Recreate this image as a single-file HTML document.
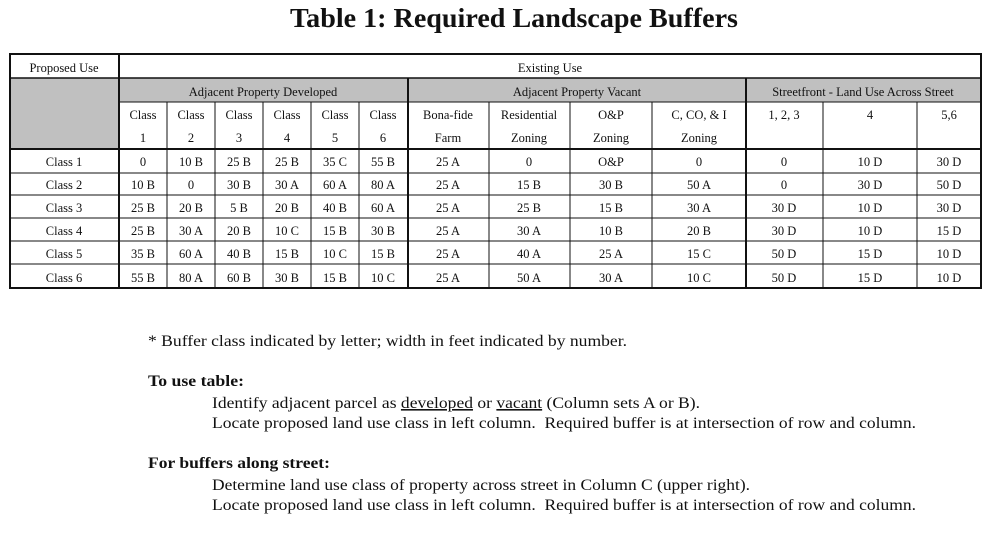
<!DOCTYPE html>
<html><head><meta charset="utf-8"><style>
html,body{margin:0;padding:0;background:#fff;width:992px;height:533px;overflow:hidden}
svg text{font-family:"Liberation Serif",serif;fill:#111}
</style></head><body>
<svg width="992" height="533" xmlns="http://www.w3.org/2000/svg">
<text x="290" y="27" font-size="27" font-weight="bold" textLength="448" lengthAdjust="spacingAndGlyphs">Table 1: Required Landscape Buffers</text>
<rect x="119" y="78" width="862" height="24" fill="#c0c0c0"/>
<rect x="10" y="78" width="109" height="71" fill="#c0c0c0"/>
<g stroke="#111" stroke-width="1" fill="none">
<line x1="10" y1="78" x2="981" y2="78" stroke-width="1.5"/>
<line x1="119" y1="102" x2="981" y2="102"/>
<line x1="10" y1="149" x2="981" y2="149" stroke-width="2"/>
<line x1="10" y1="173" x2="981" y2="173"/>
<line x1="10" y1="195" x2="981" y2="195"/>
<line x1="10" y1="218" x2="981" y2="218"/>
<line x1="10" y1="241" x2="981" y2="241"/>
<line x1="10" y1="264" x2="981" y2="264"/>
<line x1="119" y1="54" x2="119" y2="288" stroke-width="2"/>
<line x1="408" y1="78" x2="408" y2="288" stroke-width="2"/>
<line x1="746" y1="78" x2="746" y2="288" stroke-width="2"/>
<g>
<line x1="167" y1="102" x2="167" y2="288"/><line x1="215" y1="102" x2="215" y2="288"/>
<line x1="263" y1="102" x2="263" y2="288"/><line x1="311" y1="102" x2="311" y2="288"/>
<line x1="359" y1="102" x2="359" y2="288"/><line x1="489" y1="102" x2="489" y2="288"/>
<line x1="570" y1="102" x2="570" y2="288"/><line x1="652" y1="102" x2="652" y2="288"/>
<line x1="823" y1="102" x2="823" y2="288"/><line x1="917" y1="102" x2="917" y2="288"/>
</g>
<rect x="10" y="54" width="971" height="234" stroke-width="2"/>
</g>
<g font-size="12.5" text-anchor="middle">
<text x="64" y="72">Proposed Use</text>
<text x="550" y="72">Existing Use</text>
<text x="263" y="96">Adjacent Property Developed</text>
<text x="577" y="96">Adjacent Property Vacant</text>
<text x="863" y="96">Streetfront - Land Use Across Street</text>
<text x="143" y="119">Class</text><text x="191" y="119">Class</text><text x="239" y="119">Class</text><text x="287" y="119">Class</text><text x="335" y="119">Class</text><text x="383" y="119">Class</text>
<text x="143" y="142">1</text><text x="191" y="142">2</text><text x="239" y="142">3</text><text x="287" y="142">4</text><text x="335" y="142">5</text><text x="383" y="142">6</text>
<text x="448" y="119">Bona-fide</text><text x="448" y="142">Farm</text>
<text x="529" y="119">Residential</text><text x="529" y="142">Zoning</text>
<text x="611" y="119">O&amp;P</text><text x="611" y="142">Zoning</text>
<text x="699" y="119">C, CO, &amp; I</text><text x="699" y="142">Zoning</text>
<text x="784" y="119">1, 2, 3</text><text x="870" y="119">4</text><text x="949" y="119">5,6</text>
</g>
<g font-size="12.5" text-anchor="middle">
<g transform="translate(0,166)">
<text x="64">Class 1</text><text x="143">0</text><text x="191">10 B</text><text x="239">25 B</text><text x="287">25 B</text><text x="335">35 C</text><text x="383">55 B</text><text x="448">25 A</text><text x="529">0</text><text x="611">O&amp;P</text><text x="699">0</text><text x="784">0</text><text x="870">10 D</text><text x="949">30 D</text></g>
<g transform="translate(0,189)">
<text x="64">Class 2</text><text x="143">10 B</text><text x="191">0</text><text x="239">30 B</text><text x="287">30 A</text><text x="335">60 A</text><text x="383">80 A</text><text x="448">25 A</text><text x="529">15 B</text><text x="611">30 B</text><text x="699">50 A</text><text x="784">0</text><text x="870">30 D</text><text x="949">50 D</text></g>
<g transform="translate(0,212)">
<text x="64">Class 3</text><text x="143">25 B</text><text x="191">20 B</text><text x="239">5 B</text><text x="287">20 B</text><text x="335">40 B</text><text x="383">60 A</text><text x="448">25 A</text><text x="529">25 B</text><text x="611">15 B</text><text x="699">30 A</text><text x="784">30 D</text><text x="870">10 D</text><text x="949">30 D</text></g>
<g transform="translate(0,235)">
<text x="64">Class 4</text><text x="143">25 B</text><text x="191">30 A</text><text x="239">20 B</text><text x="287">10 C</text><text x="335">15 B</text><text x="383">30 B</text><text x="448">25 A</text><text x="529">30 A</text><text x="611">10 B</text><text x="699">20 B</text><text x="784">30 D</text><text x="870">10 D</text><text x="949">15 D</text></g>
<g transform="translate(0,258)">
<text x="64">Class 5</text><text x="143">35 B</text><text x="191">60 A</text><text x="239">40 B</text><text x="287">15 B</text><text x="335">10 C</text><text x="383">15 B</text><text x="448">25 A</text><text x="529">40 A</text><text x="611">25 A</text><text x="699">15 C</text><text x="784">50 D</text><text x="870">15 D</text><text x="949">10 D</text></g>
<g transform="translate(0,282)">
<text x="64">Class 6</text><text x="143">55 B</text><text x="191">80 A</text><text x="239">60 B</text><text x="287">30 B</text><text x="335">15 B</text><text x="383">10 C</text><text x="448">25 A</text><text x="529">50 A</text><text x="611">30 A</text><text x="699">10 C</text><text x="784">50 D</text><text x="870">15 D</text><text x="949">10 D</text></g>
</g>
<g font-size="16">
<text x="148" y="346" textLength="479" lengthAdjust="spacingAndGlyphs">* Buffer class indicated by letter; width in feet indicated by number.</text>
<text x="148" y="386" font-weight="bold" textLength="96" lengthAdjust="spacingAndGlyphs">To use table:</text>
<text x="212" y="408" textLength="488" lengthAdjust="spacingAndGlyphs">Identify adjacent parcel as <tspan text-decoration="underline">developed</tspan> or <tspan text-decoration="underline">vacant</tspan> (Column sets A or B).</text>
<text x="212" y="428" textLength="704" lengthAdjust="spacingAndGlyphs" xml:space="preserve">Locate proposed land use class in left column.  Required buffer is at intersection of row and column.</text>
<text x="148" y="468" font-weight="bold" textLength="182" lengthAdjust="spacingAndGlyphs">For buffers along street:</text>
<text x="212" y="490" textLength="538" lengthAdjust="spacingAndGlyphs">Determine land use class of property across street in Column C (upper right).</text>
<text x="212" y="510" textLength="704" lengthAdjust="spacingAndGlyphs" xml:space="preserve">Locate proposed land use class in left column.  Required buffer is at intersection of row and column.</text>
</g>
</svg>
</body></html>
